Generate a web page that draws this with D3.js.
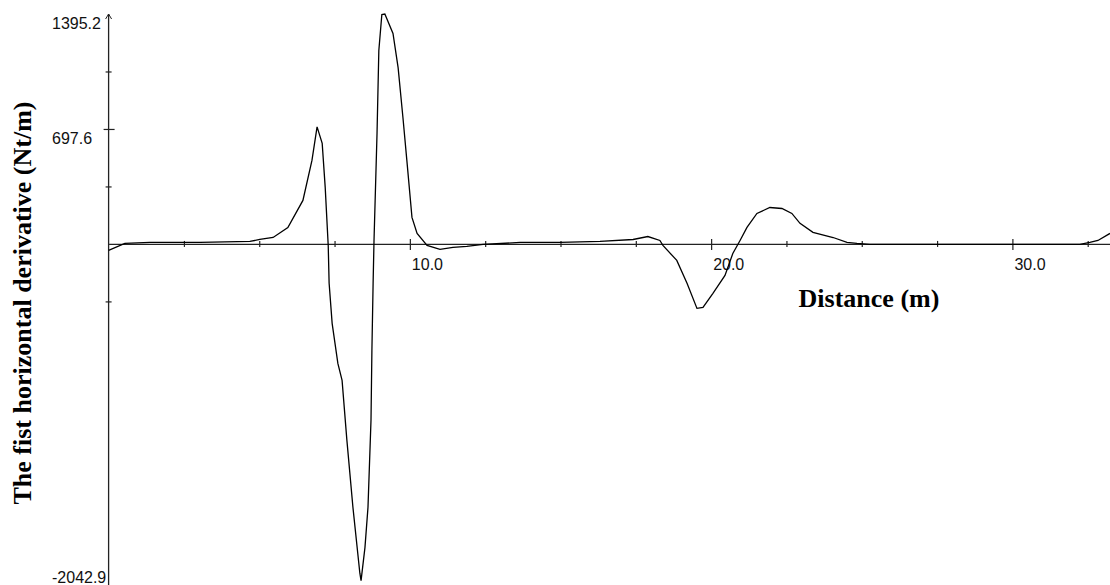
<!DOCTYPE html>
<html>
<head>
<meta charset="utf-8">
<script src="https://cdn.jsdelivr.net/npm/d3@7"></script>
<style>
  body { margin: 0; background: #fff; }
  svg { display: block; }
</style>
</head>
<body>
<div id="chart"></div>
<script>
// profile: distance (m) and first horizontal derivative (Nt/m)
const distance = [0.0, 0.54, 1.37, 3.03, 4.69, 5.02, 5.46, 5.95, 6.45, 6.75, 6.92, 7.09, 7.19, 7.29,
  7.32, 7.42, 7.61, 7.75, 7.91, 8.11, 8.34, 8.38, 8.51, 8.61, 8.71, 8.74, 8.78, 8.81, 8.91, 8.97,
  9.07, 9.17, 9.44, 9.61, 9.77, 9.90, 10.07, 10.24, 10.57, 11.00, 11.43, 11.89, 12.43, 13.66, 14.98,
  16.31, 17.41, 17.90, 18.30, 18.40, 18.86, 19.20, 19.53, 19.73, 20.06, 20.46, 20.72, 20.96, 21.19,
  21.52, 21.95, 22.35, 22.68, 22.95, 23.38, 24.05, 24.51, 24.84, 25.27, 27.93, 31.25, 32.24, 32.57,
  32.84, 33.24];
const derivative = [-39, 3, 9, 9, 15, 27, 39, 100, 264, 507, 710, 610, 343, -9,
  -239, -482, -725, -828, -1192, -1598, -1998, -2042.9, -1841, -1598, -1070, -646, -239, 21, 670, 1174,
  1392, 1395.2, 1277, 1070, 767, 507, 161, 64, -9, -33, -21, -15, -3, 9, 9,
  15, 27, 45, 21, -9, -100, -239, -391, -385, -300, -191, -58, 21, 100,
  185, 221, 215, 185, 125, 70, 39, 9, 3, -3, -3, -3, -3, 9,
  21, 64];

const xTickValues = [2.5, 5, 7.5, 10, 12.5, 15, 17.5, 20, 22.5, 25, 27.5, 30, 32.5];
const xLabelValues = [10, 20, 30];
const yTickValues = [1046.4, 697.6, 348.8, -348.8];
const yLabelValues = [1395.2, 697.6, -2042.9];

const width = 1110, height = 585;

const svg = d3.select("#chart")
  .append("svg")
  .attr("width", width)
  .attr("height", height);

const x = d3.scaleLinear().domain([0, 33.24]).range([108.6, 1110]);
const y = d3.scaleLinear().domain([-2042.9, 1395.2]).range([580.6, 14]);

const axisColor = "#222";
const labelFont = "'Liberation Sans', Arial, sans-serif";

// x axis along zero, ticks crossing the line
const xAxis = svg.append("g")
  .attr("transform", `translate(0,${y(0)})`)
  .call(d3.axisBottom(x)
    .tickValues(xTickValues)
    .tickSizeOuter(0)
    .tickFormat(d => xLabelValues.includes(d) ? d.toFixed(1) : ""));
xAxis.select(".domain").attr("stroke", axisColor).attr("stroke-width", 1.3);
xAxis.selectAll(".tick line")
  .attr("stroke", axisColor)
  .attr("stroke-width", 1.2)
  .attr("y1", d => xLabelValues.includes(d) ? -5 : -3)
  .attr("y2", d => xLabelValues.includes(d) ? 6 : 3);
xAxis.selectAll(".tick text")
  .attr("text-anchor", "start")
  .attr("x", 1.5)
  .attr("y", 26)
  .attr("dy", 0)
  .attr("fill", "#111")
  .style("font-family", labelFont)
  .style("font-size", "16px");

// y axis
const yAxis = svg.append("g")
  .attr("transform", `translate(${x(0)},0)`)
  .call(d3.axisLeft(y)
    .tickValues(yTickValues)
    .tickSizeOuter(0)
    .tickFormat(""));
yAxis.select(".domain").remove();
yAxis.append("line")
  .attr("y1", y.range()[1])
  .attr("y2", height)
  .attr("stroke", axisColor)
  .attr("stroke-width", 1.3);
yAxis.append("path")
  .attr("d", `M-3,${y.range()[1] + 5}L0,${y.range()[1]}L3,${y.range()[1] + 5}`)
  .attr("fill", "none")
  .attr("stroke", axisColor)
  .attr("stroke-width", 1);
yAxis.selectAll(".tick line")
  .attr("stroke", axisColor)
  .attr("stroke-width", 1.2)
  .attr("x1", d => yLabelValues.includes(d) ? -5 : -3)
  .attr("x2", d => yLabelValues.includes(d) ? 6 : 3);

svg.append("g")
  .selectAll("text")
  .data(yLabelValues)
  .enter()
  .append("text")
  .attr("x", 52)
  .attr("y", (d, i) => i === yLabelValues.length - 1 ? Math.min(y(d) + 2, height - 2) : y(d) + 15)
  .attr("fill", "#111")
  .style("font-family", labelFont)
  .style("font-size", "16px")
  .text(d => d.toFixed(1));

// curve
const line = d3.line()
  .x((d, i) => x(distance[i]))
  .y(d => y(d));

svg.append("path")
  .datum(derivative)
  .attr("d", line)
  .attr("fill", "none")
  .attr("stroke", "#000")
  .attr("stroke-width", 1.3);

// axis titles
svg.append("text")
  .attr("x", 869)
  .attr("y", 307)
  .attr("text-anchor", "middle")
  .style("font-family", "'Liberation Serif', 'Times New Roman', serif")
  .style("font-weight", "bold")
  .style("font-size", "26px")
  .text("Distance (m)");

svg.append("text")
  .attr("transform", "translate(31,303) rotate(-90)")
  .attr("text-anchor", "middle")
  .style("font-family", "'Liberation Serif', 'Times New Roman', serif")
  .style("font-weight", "bold")
  .style("font-size", "26px")
  .text("The fist horizontal derivative (Nt/m)");
</script>
</body>
</html>
